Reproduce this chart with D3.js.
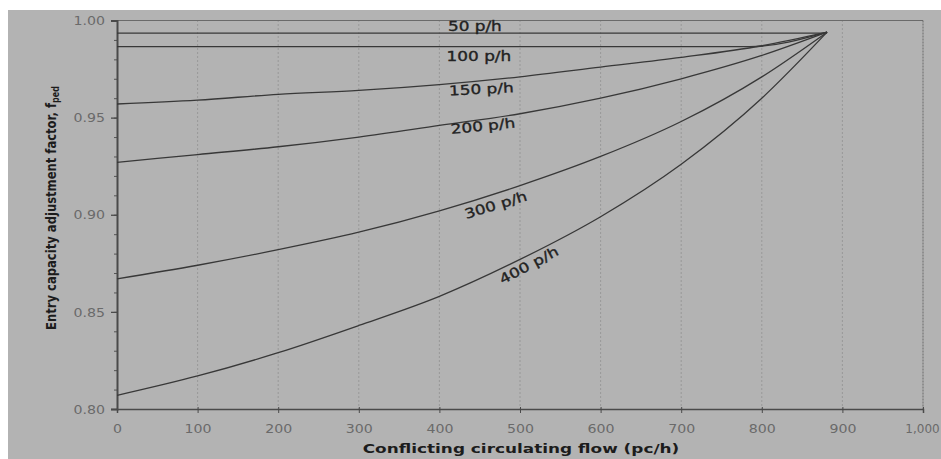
<!DOCTYPE html>
<html>
<head>
<meta charset="utf-8">
<script src="https://cdn.jsdelivr.net/npm/d3@7"></script>
<style>
  body { margin: 0; background: #fff; }
  svg { display: block; }
</style>
</head>
<body>
<svg id="chart" width="941" height="459"></svg>
<script>
// Conflicting circulating flow (pc/h) tick values and factor ticks
const flowTicks = [0, 100, 200, 300, 400, 500, 600, 700, 800, 900, 1000];
const factorTicks = [0.80, 0.85, 0.90, 0.95, 1.00];

// Pedestrian volume series names
const pedLabels = ["50 p/h", "100 p/h", "150 p/h", "200 p/h", "300 p/h", "400 p/h"];

// Circulating flow sample points shared by the curved series
const circFlow = [0, 100, 200, 300, 400, 500, 600, 700, 800, 881];

// Entry capacity adjustment factor per series
const flow50 = [0, 881];
const fped50 = [0.9935, 0.9935];
const flow100 = [0, 785, 881];
const fped100 = [0.9865, 0.9865, 0.994];
const fped150 = [0.957, 0.959, 0.962, 0.964, 0.967, 0.971, 0.976, 0.981, 0.987, 0.994];
const fped200 = [0.927, 0.931, 0.935, 0.940, 0.946, 0.952, 0.960, 0.970, 0.982, 0.994];
const fped300 = [0.867, 0.874, 0.882, 0.891, 0.902, 0.915, 0.930, 0.948, 0.971, 0.994];
const fped400 = [0.807, 0.817, 0.829, 0.843, 0.858, 0.877, 0.899, 0.926, 0.960, 0.994];

// Where each series name sits (flow, factor, rotation in degrees)
const labelFlow = [444, 449, 452, 454, 470, 511];
const labelFactor = [0.9972, 0.9817, 0.9647, 0.9457, 0.905, 0.874];
const labelAngle = [0, 0, -3, -6, -17, -28];

const series = [
  { xs: flow50, ys: fped50 },
  { xs: flow100, ys: fped100 },
  { xs: circFlow, ys: fped150 },
  { xs: circFlow, ys: fped200 },
  { xs: circFlow, ys: fped300 },
  { xs: circFlow, ys: fped400 }
].map((s, i) => ({
  name: pedLabels[i],
  points: s.xs.map((v, j) => [v, s.ys[j]])
}));

const svg = d3.select("#chart");
const W = 941, H = 459;

// Page and plot background
svg.append("rect").attr("width", W).attr("height", H).attr("fill", "#ffffff");
svg.append("rect").attr("x", 8).attr("y", 10).attr("width", W - 8).attr("height", H - 10)
  .attr("fill", "#b3b3b3");

const x = d3.scaleLinear().domain([0, 1000]).range([117, 923]);
const y = d3.scaleLinear().domain([0.80, 1.00]).range([409, 20.5]);

const TICK_FONT = "'DejaVu Sans', Verdana, sans-serif";
const SX = 1.18; // horizontal widening of the tick text

// Vertical dotted gridlines
svg.append("g")
  .selectAll("line")
  .data(flowTicks.filter(d => d > 0 && d < 1000))
  .join("line")
  .attr("x1", d => x(d)).attr("x2", d => x(d))
  .attr("y1", y(1.0)).attr("y2", y(0.8))
  .attr("stroke", "#7e7e7e")
  .attr("stroke-width", 1)
  .attr("stroke-dasharray", "1,3");

// Plot frame: top and right edges
svg.append("line")
  .attr("x1", x(0)).attr("x2", x(1000))
  .attr("y1", y(1.0)).attr("y2", y(1.0))
  .attr("stroke", "#6a6a6a").attr("stroke-width", 1);
svg.append("line")
  .attr("x1", x(1000)).attr("x2", x(1000))
  .attr("y1", y(1.0)).attr("y2", y(0.8))
  .attr("stroke", "#6a6a6a").attr("stroke-width", 1)
  .attr("stroke-dasharray", "2,1");

// Minor y ticks every 0.01
const minorTicks = d3.range(80, 101).map(d => d / 100);
svg.append("g")
  .attr("transform", `translate(${x(0)},0)`)
  .call(d3.axisLeft(y).tickValues(minorTicks).tickSize(3).tickFormat(""))
  .call(g => g.select(".domain").remove())
  .call(g => g.selectAll(".tick line").attr("stroke", "#555"));

// Y axis with labelled ticks
const yAxis = svg.append("g")
  .attr("transform", `translate(${x(0)},0)`)
  .call(d3.axisLeft(y).tickValues(factorTicks).tickSize(6).tickFormat(d3.format(".2f")));
yAxis.select(".domain").attr("stroke", "#4a4a4a").attr("stroke-width", 2);
yAxis.selectAll(".tick line").attr("stroke", "#4a4a4a").attr("stroke-width", 1.3);
yAxis.selectAll(".tick text")
  .attr("x", -12 / SX)
  .attr("dy", "0.35em")
  .attr("transform", `scale(${SX},1)`)
  .attr("fill", "#6a6a6a")
  .style("font-family", TICK_FONT)
  .style("font-size", "12px");

// X axis with labelled ticks; the last label stays narrow to fit the page edge
const xAxis = svg.append("g")
  .attr("transform", `translate(0,${y(0.8)})`)
  .call(d3.axisBottom(x).tickValues(flowTicks).tickSize(4).tickFormat(d3.format(",")));
xAxis.select(".domain").attr("stroke", "#4a4a4a").attr("stroke-width", 1.5);
xAxis.selectAll(".tick line").attr("stroke", "#4a4a4a").attr("y1", -2);
xAxis.selectAll(".tick text")
  .attr("y", 15)
  .attr("dy", "0.71em")
  .attr("transform", d => d === 1000 ? "scale(1,1)" : `scale(${SX},1)`)
  .attr("dx", d => d === 1000 ? "-1px" : null)
  .attr("fill", "#6a6a6a")
  .style("font-family", TICK_FONT)
  .style("font-size", "12px");

// Series curves
const line = d3.line()
  .x(d => x(d[0]))
  .y(d => y(d[1]))
  .curve(d3.curveMonotoneX);

svg.append("g")
  .selectAll("path")
  .data(series)
  .join("path")
  .attr("d", d => line(d.points))
  .attr("fill", "none")
  .attr("stroke", "#383838")
  .attr("stroke-width", 1.3);

// Series names along the curves
svg.append("g")
  .selectAll("text")
  .data(pedLabels)
  .join("text")
  .attr("transform", (d, i) =>
    `translate(${x(labelFlow[i])},${y(labelFactor[i])}) rotate(${labelAngle[i]}) scale(1.25,1)`)
  .attr("text-anchor", "middle")
  .attr("dy", "0.35em")
  .attr("fill", "#222")
  .attr("stroke", "#222")
  .attr("stroke-width", 0.35)
  .style("font-family", TICK_FONT)
  .style("font-size", "13.5px")
  .text(d => d);

// Axis titles
svg.append("text")
  .attr("transform", `translate(521,453) scale(1.3,1)`)
  .attr("text-anchor", "middle")
  .attr("fill", "#1c1c1c")
  .style("font-family", TICK_FONT)
  .style("font-weight", "bold")
  .style("font-size", "13px")
  .text("Conflicting circulating flow (pc/h)");

const yTitle = svg.append("text")
  .attr("transform", `translate(56,208) rotate(-90) scale(1,1.2)`)
  .attr("text-anchor", "middle")
  .attr("fill", "#1c1c1c")
  .style("font-family", TICK_FONT)
  .style("font-weight", "bold")
  .style("font-size", "11.6px");
yTitle.append("tspan").text("Entry capacity adjustment factor, f");
yTitle.append("tspan")
  .attr("dy", "0.3em")
  .style("font-size", "8px")
  .text("ped");
</script>
</body>
</html>
